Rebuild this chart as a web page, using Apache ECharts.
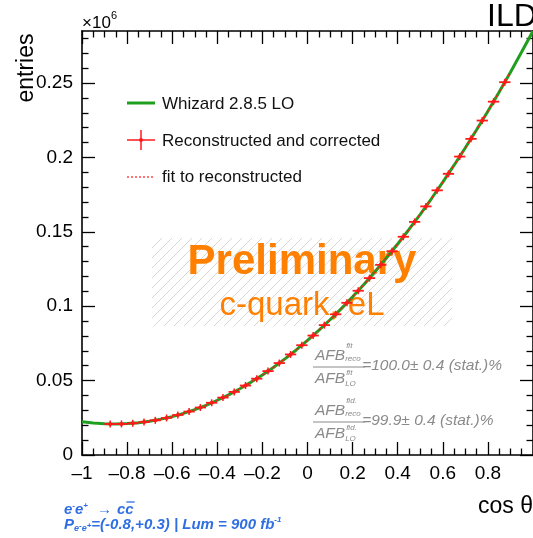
<!DOCTYPE html>
<html>
<head>
<meta charset="utf-8">
<script src="https://cdn.jsdelivr.net/npm/echarts@6/dist/echarts.min.js"></script>
<style>
  html, body { margin: 0; padding: 0; background: #fff; }
  #chart { width: 533px; height: 538px; }
</style>
</head>
<body>
<div id="chart"></div>
<script>
// Generator-level angular distribution (entries in units of 10^6)
const whizardX = [-1, -0.95, -0.9, -0.85, -0.8, -0.75, -0.7, -0.65, -0.6, -0.55, -0.5, -0.45, -0.4, -0.35, -0.3, -0.25, -0.2, -0.15, -0.1, -0.05, 0,
                  0.05, 0.1, 0.15, 0.2, 0.25, 0.3, 0.35, 0.4, 0.45, 0.5, 0.55, 0.6, 0.65, 0.7, 0.75, 0.8, 0.85, 0.9, 0.95, 1];
const whizardY = [0.0224, 0.0215, 0.0210, 0.0208, 0.0211, 0.0217, 0.0227, 0.0241, 0.0258, 0.0280, 0.0305, 0.0334, 0.0368, 0.0404, 0.0445, 0.0490, 0.0538, 0.0590, 0.0646, 0.0706, 0.0770,
                  0.0838, 0.0909, 0.0984, 0.1063, 0.1146, 0.1233, 0.1324, 0.1418, 0.1516, 0.1618, 0.1724, 0.1834, 0.1948, 0.2065, 0.2186, 0.2311, 0.2440, 0.2573, 0.2710, 0.2850];

// Reconstructed and corrected histogram: bin centres and contents
const recoX = [-0.875, -0.825, -0.775, -0.725, -0.675, -0.625, -0.575, -0.525, -0.475, -0.425, -0.375, -0.325, -0.275, -0.225, -0.175, -0.125, -0.075, -0.025,
               0.025, 0.075, 0.125, 0.175, 0.225, 0.275, 0.325, 0.375, 0.425, 0.475, 0.525, 0.575, 0.625, 0.675, 0.725, 0.775, 0.825, 0.875];
const recoY = [0.0208, 0.0209, 0.0213, 0.0221, 0.0233, 0.0249, 0.0269, 0.0292, 0.0319, 0.0351, 0.0386, 0.0424, 0.0467, 0.0513, 0.0564, 0.0618, 0.0676, 0.0738,
               0.0803, 0.0873, 0.0946, 0.1023, 0.1104, 0.1189, 0.1278, 0.1370, 0.1467, 0.1567, 0.1671, 0.1779, 0.1890, 0.2006, 0.2125, 0.2248, 0.2375, 0.2506];
const binHalfWidth = 0.025;

// Range covered by the fit to the reconstructed distribution
const fitRange = [-0.9, 0.9];

// Axis ticks and labels
const xTickValues = [-1, -0.8, -0.6, -0.4, -0.2, 0, 0.2, 0.4, 0.6, 0.8];
const xTickLabels = ['\u20131', '\u20130.8', '\u20130.6', '\u20130.4', '\u20130.2', '0', '0.2', '0.4', '0.6', '0.8'];
const yTickValues = [0, 0.05, 0.1, 0.15, 0.2, 0.25];
const yTickLabels = ['0', '0.05', '0.1', '0.15', '0.2', '0.25'];
const xRange = [-1, 1];
const yRange = [0, 0.285];

const xMinorValues = [];
for (let i = -20; i <= 20; i++) { if (i % 4 !== 0) xMinorValues.push(+(i * 0.05).toFixed(2)); }
const yMinorValues = [];
for (let i = 1; i <= 28; i++) { if (i % 5 !== 0) yMinorValues.push(+(i * 0.01).toFixed(2)); }

const FONT = '"Liberation Sans", Arial, Helvetica, sans-serif';
const BLACK = '#000';

function lookup(values, labels) {
  return v => {
    const k = values.findIndex(t => Math.abs(t - v) < 1e-9);
    return k >= 0 ? labels[k] : '';
  };
}

function axis(dim, position, major, withLabels, withLine) {
  const values = dim === 'x' ? (major ? xTickValues : xMinorValues) : (major ? yTickValues : yMinorValues);
  const range = dim === 'x' ? xRange : yRange;
  return {
    type: 'value', position, min: range[0], max: range[1],
    axisLine: { show: withLine, onZero: false, lineStyle: { color: BLACK, width: 1.6 } },
    axisTick: { show: true, inside: true, length: major ? 13 : 6.5, customValues: values,
                lineStyle: { color: BLACK, width: 1.3 } },
    axisLabel: withLabels ? {
      show: true, customValues: values, margin: 9, fontSize: 19, color: BLACK, fontFamily: FONT,
      formatter: dim === 'x' ? lookup(xTickValues, xTickLabels) : lookup(yTickValues, yTickLabels)
    } : { show: false },
    splitLine: { show: false }, minorTick: { show: false }, minorSplitLine: { show: false }
  };
}

// Hatched background behind the preliminary stamp
const hatch = document.createElement('canvas');
hatch.width = 10; hatch.height = 10;
(function () {
  const c = hatch.getContext('2d');
  c.strokeStyle = '#d6d6d6'; c.lineWidth = 1;
  c.beginPath();
  c.moveTo(0, 10); c.lineTo(10, 0);
  c.moveTo(-5, 5); c.lineTo(5, -5);
  c.moveTo(5, 15); c.lineTo(15, 5);
  c.stroke();
})();

const measureCtx = document.createElement('canvas').getContext('2d');
function textWidth(str, font) { measureCtx.font = font; return measureCtx.measureText(str).width; }

function txt(x, y, text, font, fill, align, extra) {
  return Object.assign({
    type: 'text', x, y, z: 20, silent: true,
    style: { text, font, fill, align: align || 'left', verticalAlign: 'middle',
             textAlign: align || 'left', textVerticalAlign: 'middle' }
  }, extra || {});
}

// Lays out pieces of text one after another on a line
function run(x, y, parts, fill) {
  const out = [];
  let cx = x;
  parts.forEach(p => {
    out.push(txt(cx, y + (p.dy || 0), p.t, p.font, fill));
    p.x = cx;
    p.w = textWidth(p.t, p.font);
    cx += p.w + (p.gap || 0);
  });
  return out;
}

// Ratio label of the form  AFB^sup_sub / AFB^sup_LO = text
const GRAY = '#8a8a8a';
const fBig = 'italic 15.5px ' + FONT;
const fSmall = 'italic 8px ' + FONT;
function ratio(x, lineY, sup, text) {
  const w = textWidth('AFB', fBig);
  return [
    txt(x, lineY - 11, 'AFB', fBig, GRAY),
    txt(x + w + 1, lineY - 21, sup, fSmall, GRAY),
    txt(x + w, lineY - 8, 'reco', fSmall, GRAY),
    { type: 'line', z: 20, silent: true, shape: { x1: x - 2, y1: lineY, x2: x + w + 20, y2: lineY },
      style: { stroke: GRAY, lineWidth: 1 } },
    txt(x, lineY + 12, 'AFB', fBig, GRAY),
    txt(x + w + 1, lineY + 6, sup, fSmall, GRAY),
    txt(x + w, lineY + 17, 'LO', fSmall, GRAY),
    txt(x + w + 17, lineY - 1, text, fBig, GRAY)
  ];
}

const BLUE = '#2f6fe2';
const bBig = 'italic bold 15px ' + FONT;
const bSmall = 'italic bold 9px ' + FONT;
const bTiny = 'italic bold 8px ' + FONT;
const line1 = [
  { t: 'e', font: bBig }, { t: '-', font: bTiny, dy: -4 }, { t: 'e', font: bBig }, { t: '+', font: bTiny, dy: -4, gap: 9 },
  { t: '\u2192', font: bBig, gap: 5 }, { t: 'c', font: bBig }, { t: 'c', font: bBig }
];
const line2 = [
  { t: 'P', font: bBig }, { t: 'e', font: bSmall, dy: 4 }, { t: '-', font: bTiny, dy: 1 }, { t: 'e', font: bSmall, dy: 4 },
  { t: '+', font: bTiny, dy: 1 }, { t: '=(-0.8,+0.3) | Lum = 900 fb', font: bBig }, { t: '-1', font: bTiny, dy: -5 }
];
const line1Els = run(64, 510, line1, BLUE);
const cbar = line1[6];
const line2Els = run(64, 525, line2, BLUE);

const GREEN = '#1f9f1f';
const RED = '#ff1a1a';

const graphics = [
  // preliminary stamp
  { type: 'rect', z: 0, silent: true, shape: { x: 152, y: 238, width: 300, height: 88 },
    style: { fill: { image: hatch, repeat: 'repeat' } } },
  txt(302, 262, 'Preliminary', 'bold 42px ' + FONT, '#ff8000', 'center', { z: 1 }),
  txt(302, 306, 'c-quark, eL', '33px ' + FONT, '#ff8000', 'center', { z: 1 }),
  // titles and axis names
  txt(487, 17, 'ILD', '32px ' + FONT, BLACK),
  txt(478, 507, 'cos \u03b8', '23px ' + FONT, BLACK),
  txt(27, 68, 'entries', '23px ' + FONT, BLACK, 'center', { rotation: Math.PI / 2 }),
  txt(82, 23, '\u00d710', '17px ' + FONT, BLACK),
  txt(111, 16, '6', '11px ' + FONT, BLACK),
  // legend
  { type: 'line', z: 20, silent: true, shape: { x1: 127, y1: 103, x2: 155, y2: 103 }, style: { stroke: GREEN, lineWidth: 3 } },
  txt(162, 104, 'Whizard 2.8.5 LO', '17px ' + FONT, '#111'),
  { type: 'line', z: 20, silent: true, shape: { x1: 127, y1: 140, x2: 155, y2: 140 }, style: { stroke: RED, lineWidth: 1.5 } },
  { type: 'line', z: 20, silent: true, shape: { x1: 141, y1: 130, x2: 141, y2: 150 }, style: { stroke: RED, lineWidth: 1.5 } },
  { type: 'circle', z: 20, silent: true, shape: { cx: 141, cy: 140, r: 2 }, style: { fill: RED } },
  txt(162, 141, 'Reconstructed and corrected', '17px ' + FONT, '#111'),
  { type: 'line', z: 20, silent: true, shape: { x1: 127, y1: 177, x2: 153, y2: 177 },
    style: { stroke: RED, lineWidth: 1.2, lineDash: [2, 2] } },
  txt(162, 177, 'fit to reconstructed', '17px ' + FONT, '#111'),
  // asymmetry ratios
  ...ratio(315, 367, 'fit', '=100.0\u00b1 0.4 (stat.)%'),
  ...ratio(315, 422, 'fid.', '=99.9\u00b1 0.4 (stat.)%'),
  // process and beam conditions
  ...line1Els,
  { type: 'line', z: 20, silent: true, shape: { x1: cbar.x + 1, y1: 502, x2: cbar.x + cbar.w + 1, y2: 502 },
    style: { stroke: BLUE, lineWidth: 1.3 } },
  ...line2Els
];

const fitData = whizardX.map((x, i) => [x, whizardY[i]])
  .filter(p => p[0] >= fitRange[0] - 1e-9 && p[0] <= fitRange[1] + 1e-9);

const chart = echarts.init(document.getElementById('chart'), null, { renderer: 'canvas' });
chart.setOption({
  animation: false,
  backgroundColor: '#fff',
  grid: { left: 82, top: 31, width: 451, height: 424, containLabel: false, outerBoundsMode: 'none' },
  xAxis: [
    axis('x', 'bottom', true, true, true),
    axis('x', 'bottom', false, false, false),
    axis('x', 'top', true, false, true),
    axis('x', 'top', false, false, false)
  ],
  yAxis: [
    axis('y', 'left', true, true, true),
    axis('y', 'left', false, false, false),
    axis('y', 'right', true, false, true),
    axis('y', 'right', false, false, false)
  ],
  graphic: { elements: graphics },
  series: [
    {
      name: 'Whizard 2.8.5 LO', type: 'line', xAxisIndex: 0, yAxisIndex: 0,
      data: whizardX.map((x, i) => [x, whizardY[i]]),
      showSymbol: false, silent: true, z: 3,
      lineStyle: { color: GREEN, width: 3 }
    },
    {
      name: 'Reconstructed and corrected', type: 'custom', xAxisIndex: 0, yAxisIndex: 0,
      data: recoX.map((x, i) => [x, recoY[i]]), silent: true, z: 4,
      renderItem(params, api) {
        const x = api.value(0), y = api.value(1);
        const l = api.coord([x - binHalfWidth, y]);
        const r = api.coord([x + binHalfWidth, y]);
        const c = api.coord([x, y]);
        return {
          type: 'group', children: [
            { type: 'line', shape: { x1: l[0], y1: l[1], x2: r[0], y2: r[1] }, style: { stroke: RED, lineWidth: 1.8 } },
            { type: 'line', shape: { x1: c[0], y1: c[1] - 3.5, x2: c[0], y2: c[1] + 3.5 }, style: { stroke: RED, lineWidth: 1.5 } },
            { type: 'circle', shape: { cx: c[0], cy: c[1], r: 2 }, style: { fill: RED } }
          ]
        };
      }
    },
    {
      name: 'fit to reconstructed', type: 'line', xAxisIndex: 0, yAxisIndex: 0,
      data: fitData, showSymbol: false, silent: true, z: 5,
      lineStyle: { color: RED, width: 1.3, type: [3, 3] }
    }
  ]
});
</script>
</body>
</html>
